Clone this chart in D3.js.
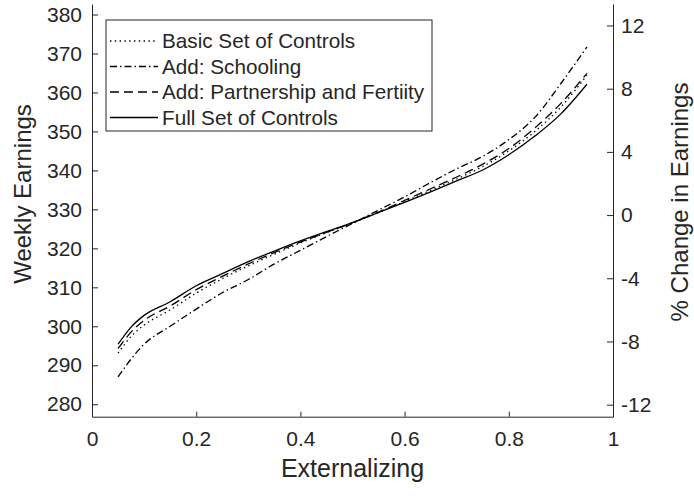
<!DOCTYPE html>
<html>
<head>
<meta charset="utf-8">
<script src="https://d3js.org/d3.v7.min.js"></script>
<style>
  body { margin: 0; background: #fff; }
  text { font-family: "Liberation Sans", Arial, sans-serif; fill: #262626; }
</style>
</head>
<body>
<svg id="chart" width="694" height="496"></svg>
<script>
// ---------------- data ----------------
var xs = [0.05, 0.075, 0.10, 0.15, 0.20, 0.25, 0.30, 0.35, 0.40, 0.45, 0.50,
          0.55, 0.60, 0.65, 0.70, 0.75, 0.80, 0.85, 0.90, 0.95];

var basic       = [293.1, 297.4, 300.3, 304.2, 308.5, 312.2, 315.5, 318.5, 321.4, 324.0, 326.5,
                   329.2, 332.0, 334.9, 337.8, 341.0, 345.0, 350.0, 356.3, 364.4];
var schooling   = [287.0, 291.6, 295.4, 300.0, 304.4, 308.6, 312.0, 316.0, 319.5, 323.0, 326.4,
                   329.8, 333.2, 336.9, 340.4, 343.6, 347.9, 353.6, 362.3, 371.7];
var partnership = [294.3, 298.5, 301.5, 305.2, 309.4, 312.8, 316.0, 318.9, 321.6, 324.1, 326.6,
                   329.3, 332.3, 335.3, 338.3, 341.6, 345.6, 350.9, 357.2, 364.9];
var full        = [295.4, 299.8, 302.8, 306.3, 310.4, 313.5, 316.6, 319.3, 321.9, 324.3, 326.6,
                   329.2, 331.8, 334.5, 337.3, 340.1, 344.0, 348.8, 354.5, 362.1];

var seriesNames = ["Basic Set of Controls", "Add: Schooling", "Add: Partnership and Fertiity", "Full Set of Controls"];
var seriesDash  = ["1.4 3.4", "7 3 1.5 3", "9 5", null];

var xTicks = [0, 0.2, 0.4, 0.6, 0.8, 1];
var yLeftTicks = [280, 290, 300, 310, 320, 330, 340, 350, 360, 370, 380];
var yRightTicks = [-12, -8, -4, 0, 4, 8, 12];

// ---------------- scales ----------------
var plotL = 92, plotR = 613, plotT = 4, plotB = 416.7;
var svg = d3.select("#chart");

var x = d3.scaleLinear().domain([0, 1]).range([plotL, plotR]);
var yL = d3.scaleLinear().domain([276.8, 382.7]).range([plotB, plotT]);
var yR = d3.scaleLinear().domain([-12.76, 13.36]).range([plotB, plotT]);

// plain hyphen minus, like the original
var plain = function(d) { return String(d); };

// ---------------- axes ----------------
function styleAxis(g) {
  g.select(".domain").attr("stroke", "#262626").attr("stroke-width", 1);
  g.selectAll(".tick line").attr("stroke", "#262626");
  g.selectAll(".tick text").style("font-size", "21px").attr("fill", "#262626");
}

svg.append("g")
  .attr("transform", "translate(0," + plotB + ")")
  .call(d3.axisBottom(x).tickValues(xTicks).tickFormat(plain).tickSize(-5).tickSizeOuter(0).tickPadding(14))
  .call(styleAxis);

svg.append("g")
  .attr("transform", "translate(" + plotL + ",0)")
  .call(d3.axisLeft(yL).tickValues(yLeftTicks).tickFormat(plain).tickSize(-6).tickSizeOuter(0).tickPadding(10))
  .call(styleAxis);

svg.append("g")
  .attr("transform", "translate(" + plotR + ",0)")
  .call(d3.axisRight(yR).tickValues(yRightTicks).tickFormat(plain).tickSize(-6).tickSizeOuter(0).tickPadding(8))
  .call(styleAxis);

// axis titles
svg.append("text")
  .attr("x", (plotL + plotR) / 2).attr("y", 477)
  .attr("text-anchor", "middle").style("font-size", "25px")
  .text("Externalizing");

svg.append("text")
  .attr("transform", "translate(31,194) rotate(-90)")
  .attr("text-anchor", "middle").style("font-size", "24px")
  .text("Weekly Earnings");

svg.append("text")
  .attr("transform", "translate(688,202) rotate(-90)")
  .attr("text-anchor", "middle").style("font-size", "24px")
  .text("% Change in Earnings");

// ---------------- lines ----------------
var allSeries = [basic, schooling, partnership, full];
var line = d3.line()
  .x(function(d, i) { return x(xs[i]); })
  .y(function(d) { return yL(d); })
  .curve(d3.curveMonotoneX);

allSeries.forEach(function(s, k) {
  svg.append("path")
    .datum(s)
    .attr("d", line)
    .attr("fill", "none")
    .attr("stroke", "#000")
    .attr("stroke-width", 1.3)
    .attr("stroke-dasharray", seriesDash[k]);
});

// ---------------- legend ----------------
var lg = svg.append("g");
lg.append("rect")
  .attr("x", 106).attr("y", 20).attr("width", 326).attr("height", 111)
  .attr("fill", "#fff").attr("stroke", "#262626").attr("stroke-width", 1);

seriesNames.forEach(function(name, k) {
  var cy = 41 + k * 25.5;
  lg.append("line")
    .attr("x1", 110).attr("x2", 158).attr("y1", cy).attr("y2", cy)
    .attr("stroke", "#000").attr("stroke-width", 1.3)
    .attr("stroke-dasharray", seriesDash[k]);
  lg.append("text")
    .attr("x", 162).attr("y", cy).attr("dy", "0.35em")
    .style("font-size", "20.7px").attr("fill", "#000")
    .text(name);
});
</script>
</body>
</html>
